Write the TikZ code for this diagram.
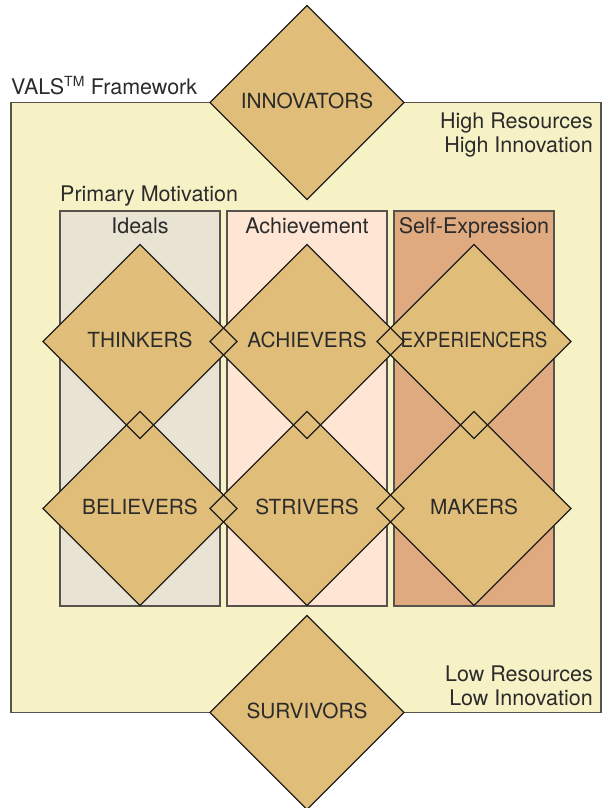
\documentclass[tikz,border=0pt]{standalone}
\usepackage{fontspec}
\setmainfont{TeX Gyre Heros}
\usepackage{xcolor}
\usepackage{graphicx}
\usetikzlibrary{shapes.geometric,positioning}

\definecolor{paleyellow}{HTML}{F7F2C6}
\definecolor{idealfill}{HTML}{E8E3D2}
\definecolor{achievefill}{HTML}{FEE5D4}
\definecolor{expressfill}{HTML}{E0AA81}
\definecolor{segfill}{HTML}{E0BD79}
\definecolor{edge}{HTML}{57524B}
\definecolor{ink}{HTML}{2B2B2B}

\begin{document}
\begin{tikzpicture}[
  x=1pt, y=-1pt,
  node distance=-27pt and -27pt,
  every node/.style={font=\fontsize{21.5}{24}\selectfont, text=ink},
  frame/.style={rectangle, draw=edge, line width=1.2pt, fill=paleyellow,
                minimum width=590pt, minimum height=610pt, inner sep=0pt, outer sep=0pt},
  column/.style={rectangle, draw=edge, line width=1.2pt, minimum width=160pt,
                 minimum height=395pt, inner sep=0pt, outer sep=0pt},
  segment/.style={diamond, aspect=1, fill=segfill, minimum size=194pt, text depth=3pt,
                  inner sep=0pt, outer sep=0pt, font=\fontsize{20.8}{24}\selectfont},
  outline/.style={draw=black!88, line width=1.1pt, line join=miter},
  note/.style={align=right, anchor=north east, inner sep=0pt}
]
  \useasboundingbox (0,0) rectangle (603,808);

  % framework and the three motivation columns
  \node[frame] (vals) at (306,407.5) {};
  \node[anchor=base west, inner sep=0pt] (title) at (11,94.3)
       {VALS\textsuperscript{\fontsize{14}{14}\selectfont TM} Framework};

  \node[column, fill=idealfill]   (ideals)  at (140,408.5) {};
  \node[column, fill=achievefill] (achieve) at (307,408.5) {};
  \node[column, fill=expressfill] (express) at (474,408.5) {};

  \node[anchor=base west, inner sep=0pt] (motiv) at ([yshift=9.5pt]ideals.north west) {Primary Motivation};
  \node[anchor=base, inner sep=0pt] (idealshd)  at ([yshift=-22.3pt]ideals.north)  {Ideals};
  \node[anchor=base, inner sep=0pt] (achievehd) at ([yshift=-22.3pt]achieve.north) {Achievement};
  \node[anchor=base, inner sep=0pt] (expresshd) at ([yshift=-22.3pt]express.north) {Self-Expression};

  \node[note] (high) at (593,112.8) {High Resources\\High Innovation};
  \node[note] (low)  at (593,665.2) {Low Resources\\Low Innovation};

  % segments
  \node[segment]                        (innovators)   at (307,102.5) {INNOVATORS};
  \node[segment]                        (thinkers)     at (140,341.5) {THINKERS};
  \node[segment, right=of thinkers]     (achievers)    {ACHIEVERS};
  \node[segment, right=of achievers]    (experiencers) {\scalebox{0.9}[1]{EXPERIENCERS}};
  \node[segment, below=of thinkers]     (believers)    {BELIEVERS};
  \node[segment, right=of believers]    (strivers)     {STRIVERS};
  \node[segment, right=of strivers]     (makers)       {MAKERS};
  \node[segment]                        (survivors)    at (307,712.5) {SURVIVORS};

  % outlines on top, so the overlaps show as small diamonds
  \foreach \seg in {innovators,thinkers,achievers,experiencers,believers,strivers,makers,survivors}
    \draw[outline] (\seg.north) -- (\seg.east) -- (\seg.south) -- (\seg.west) -- cycle;
\end{tikzpicture}
\end{document}
